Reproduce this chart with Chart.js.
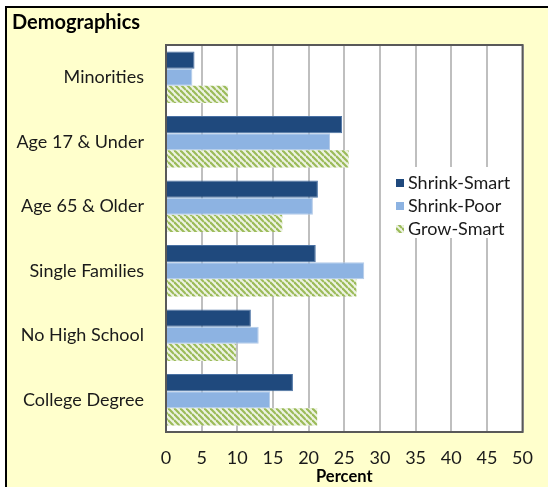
<!DOCTYPE html>
<html>
<head>
<meta charset="utf-8">
<script src="https://cdn.jsdelivr.net/npm/chart.js@4"></script>
<style>
  html, body { margin: 0; padding: 0; background: #fff; overflow: hidden; }
  #wrap { position: relative; width: 548px; height: 487px; }
</style>
</head>
<body>
<div id="wrap"><canvas id="demoChart"></canvas></div>
<script>
// カテゴリと系列データ (%)
const categories = ['Minorities', 'Age 17 & Under', 'Age 65 & Older', 'Single Families', 'No High School', 'College Degree'];
const shrinkSmart = [4.0, 24.7, 21.3, 21.0, 11.9, 17.8];
const shrinkPoor = [3.7, 23.0, 20.6, 27.8, 13.0, 14.6];
const growSmart = [8.7, 25.6, 16.3, 26.7, 9.8, 21.2];
const seriesNames = ['Shrink-Smart', 'Shrink-Poor', 'Grow-Smart'];

const FONT = 'Lato, "Open Sans", sans-serif';

// 斜線パターン (Grow-Smart)
function makeHatch() {
    const s = 6;
    const c = document.createElement('canvas');
    c.width = s; c.height = s;
    const g = c.getContext('2d');
    g.fillStyle = '#EEF3E3';
    g.fillRect(0, 0, s, s);
    g.strokeStyle = '#9BBB59';
    g.lineWidth = 2.2;
    for (let k = -1; k <= 1; k++) {
        g.beginPath();
        g.moveTo(0, k * s);
        g.lineTo(s, s + k * s);
        g.stroke();
    }
    return g.createPattern(c, 'repeat');
}

const ctx = document.getElementById('demoChart').getContext('2d');
const hatch = makeHatch();

// 背景・枠線
const framePlugin = {
    id: 'frame',
    beforeDraw(chart) {
        const c = chart.ctx;
        const a = chart.chartArea;
        c.save();
        c.fillStyle = '#fff';
        c.fillRect(0, 0, chart.width, chart.height);
        c.fillStyle = '#FFFFCC';
        c.fillRect(6, 7, chart.width, chart.height);
        c.fillStyle = '#000';
        c.fillRect(5, 6, chart.width, 2);
        c.fillRect(5, 6, 2, chart.height);
        c.fillStyle = '#fff';
        c.fillRect(a.left, a.top, a.right - a.left, a.bottom - a.top);
        c.restore();
    },
    afterDatasetsDraw(chart) {
        const c = chart.ctx;
        const a = chart.chartArea;
        c.save();
        c.strokeStyle = '#595959';
        c.lineWidth = 2;
        c.strokeRect(a.left, a.top, a.right - a.left, a.bottom - a.top);

        // 凡例 (プロット内)
        const colors = ['#1F497D', '#8DB3E2', hatch];
        c.fillStyle = '#fff';
        c.fillRect(388, 167, 133, 71);
        c.font = '18px ' + FONT;
        c.textBaseline = 'middle';
        c.textAlign = 'left';
        seriesNames.forEach((name, i) => {
            const y = 183 + i * 23;
            c.fillStyle = colors[i];
            c.fillRect(396, y - 4, 8, 8);
            c.fillStyle = '#1a1a1a';
            c.fillText(name, 408, y);
        });
        c.restore();
    }
};

new Chart(ctx, {
    type: 'bar',
    data: {
        labels: categories,
        datasets: [
            { label: seriesNames[0], data: shrinkSmart, backgroundColor: '#1F497D', borderColor: '#4A71A3', borderWidth: 1 },
            { label: seriesNames[1], data: shrinkPoor, backgroundColor: '#8DB3E2', borderColor: '#B4CBE8', borderWidth: 1 },
            { label: seriesNames[2], data: growSmart, backgroundColor: hatch, borderWidth: 0 }
        ]
    },
    options: {
        indexAxis: 'y',
        responsive: true,
        maintainAspectRatio: false,
        animation: false,
        layout: { padding: { left: 12, right: 24, top: 0, bottom: 0 } },
        datasets: { bar: { categoryPercentage: 0.8, barPercentage: 1.0 } },
        plugins: {
            legend: { display: false },
            tooltip: { enabled: false },
            title: {
                display: true,
                text: 'Demographics',
                align: 'start',
                color: '#000',
                font: { family: FONT, size: 20, weight: 'bold', lineHeight: 1.2 },
                padding: { top: 11, bottom: 10 }
            }
        },
        scales: {
            x: {
                min: 0,
                max: 50,
                ticks: { stepSize: 5, color: '#1a1a1a', font: { family: FONT, size: 18 }, padding: 15, maxRotation: 0 },
                grid: { color: '#BFBFBF', lineWidth: 2, drawTicks: false },
                border: { display: false },
                title: {
                    display: true,
                    text: 'Percent',
                    color: '#000',
                    font: { family: FONT, size: 16.5, weight: 'bold', lineHeight: 1.2 },
                    padding: { top: 0, bottom: 0 }
                },
                afterFit(scale) { scale.height = 55; }
            },
            y: {
                ticks: { color: '#1a1a1a', font: { family: FONT, size: 18 }, padding: 22 },
                grid: { display: false, drawTicks: false },
                border: { display: false },
                afterFit(scale) { scale.width = 154; }
            }
        }
    },
    plugins: [framePlugin]
});
</script>
</body>
</html>
